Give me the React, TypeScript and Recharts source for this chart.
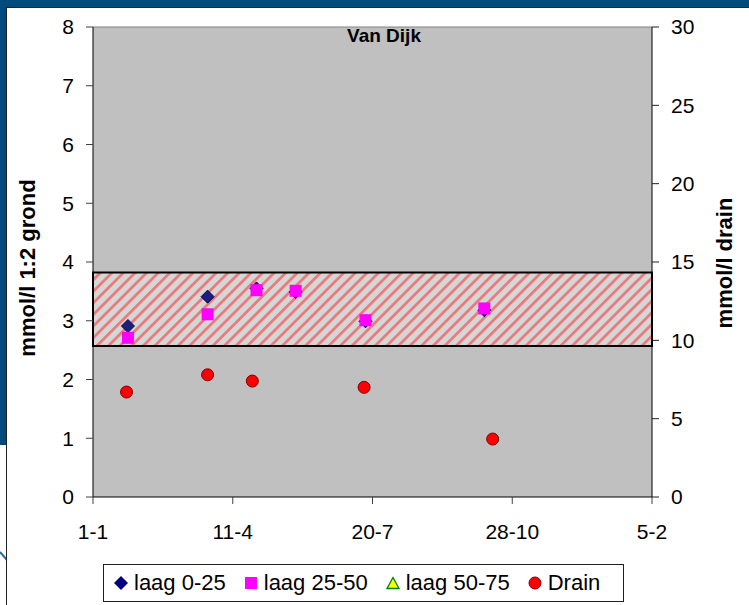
import { ComposedChart, Scatter, XAxis, YAxis, ReferenceArea, ReferenceLine, CartesianGrid } from 'recharts';

// x-as: dagen vanaf 1-1
const xTickDagen = [0, 100, 200, 300, 400];
const xTickLabels = ['1-1', '11-4', '20-7', '28-10', '5-2'];
const grondTicks = [0, 1, 2, 3, 4, 5, 6, 7, 8];
const drainTicks = [0, 5, 10, 15, 20, 25, 30];

// metingen grond (mmol/l 1:2)
const bemonsteringDagen = [25, 82, 117, 145, 195, 280];
const laag0_25 = [2.91, 3.41, 3.55, 3.49, 2.99, 3.18];
const laag25_50 = [2.71, 3.11, 3.52, 3.51, 3.01, 3.21];
const laag50_75: number[] = [];

// metingen drain (mmol/l)
const drainDagen = [24, 82, 114, 194, 286];
const drainWaarden = [6.7, 7.8, 7.4, 7.0, 3.7];

// streefwaarde grond
const streefOnder = 2.57;
const streefBoven = 3.82;

const FONT = '"Liberation Sans", Arial, sans-serif';

const laag0Data = bemonsteringDagen.map((dag, i) => ({ dag, waarde: laag0_25[i] }));
const laag25Data = bemonsteringDagen.map((dag, i) => ({ dag, waarde: laag25_50[i] }));
const laag50Data = laag50_75.map((waarde, i) => ({ dag: bemonsteringDagen[i], waarde }));
const drainData = drainDagen.map((dag, i) => ({ dag, waarde: drainWaarden[i] }));

const Ruit = (props: any) => {
  const { cx, cy } = props;
  const r = 6.5;
  return (
    <polygon
      points={`${cx},${cy - r} ${cx + r},${cy} ${cx},${cy + r} ${cx - r},${cy}`}
      fill="#1E1E80"
      stroke="#000050"
      strokeWidth={1}
    />
  );
};

const Vierkant = (props: any) => {
  const { cx, cy } = props;
  return <rect x={cx - 6} y={cy - 6} width={12} height={12} fill="#FF00FF" />;
};

const Driehoek = (props: any) => {
  const { cx, cy } = props;
  return (
    <polygon
      points={`${cx},${cy - 6} ${cx + 6},${cy + 5} ${cx - 6},${cy + 5}`}
      fill="#FFFF00"
      stroke="#008000"
      strokeWidth={1}
    />
  );
};

const Cirkel = (props: any) => {
  const { cx, cy } = props;
  return <circle cx={cx} cy={cy} r={6} fill="#FF0000" stroke="#800000" strokeWidth={1} />;
};

const legendItems = [
  { naam: 'laag 0-25', icoon: 'ruit' },
  { naam: 'laag 25-50', icoon: 'vierkant' },
  { naam: 'laag 50-75', icoon: 'driehoek' },
  { naam: 'Drain', icoon: 'cirkel' },
];

function LegendIcoon({ soort }: { soort: string }) {
  return (
    <svg width={14} height={14} style={{ marginRight: 6, flexShrink: 0 }}>
      {soort === 'ruit' && <polygon points="7,0 14,7 7,14 0,7" fill="#000080" />}
      {soort === 'vierkant' && <rect x={1} y={1} width={12} height={12} fill="#FF00FF" />}
      {soort === 'driehoek' && <polygon points="7,1.5 13,12.5 1,12.5" fill="#FFFF00" stroke="#008000" strokeWidth={1.3} />}
      {soort === 'cirkel' && <circle cx={7} cy={7} r={6} fill="#FF0000" stroke="#800000" strokeWidth={1} />}
    </svg>
  );
}

const tickStijl = { fontSize: 21, fill: '#000', fontFamily: FONT };

export default function App() {
  return (
    <div style={{ position: 'relative', width: 749, height: 605, background: '#004B7D', overflow: 'hidden' }}>
      <style>{'body{margin:0}'}</style>
      <div style={{ position: 'absolute', left: 0, top: 445, width: 7, height: 160, background: '#fff' }} />
      <svg style={{ position: 'absolute', left: 0, top: 540 }} width={7} height={30}>
        <line x1={0} y1={12} x2={7} y2={20} stroke="#2A6A9A" strokeWidth={2} />
      </svg>
      <div
        style={{
          position: 'absolute',
          left: 6,
          top: 7,
          width: 743,
          height: 598,
          background: '#fff',
          borderLeft: '1px solid #222',
          borderTop: '1px solid #0A2A40',
          boxSizing: 'border-box',
        }}
      />
      <ComposedChart
        width={749}
        height={605}
        margin={{ top: 27, left: 40, right: 37, bottom: 68 }}
        style={{ position: 'absolute', left: 0, top: 0 }}
      >
        <defs>
          <pattern id="arcering" patternUnits="userSpaceOnUse" width={8.2} height={8.2} patternTransform="rotate(45)">
            <rect x={0} y={0} width={8.2} height={8.2} fill="#D6D6D6" />
            <rect x={0} y={0} width={2.8} height={8.2} fill="#E87C7C" />
          </pattern>
        </defs>
        <CartesianGrid horizontal={false} vertical={false} fill="#C0C0C0" fillOpacity={1} stroke="none" />
        <XAxis
          type="number"
          dataKey="dag"
          domain={[0, 400]}
          ticks={xTickDagen}
          tickFormatter={(v: number) => xTickLabels[xTickDagen.indexOf(v)] ?? ''}
          allowDataOverflow
          height={40}
          tick={tickStijl}
          tickSize={7}
          tickMargin={20}
          axisLine={{ stroke: '#000' }}
          tickLine={{ stroke: '#404040' }}
          interval={0}
        />
        <YAxis
          yAxisId="links"
          orientation="left"
          type="number"
          domain={[0, 8]}
          ticks={grondTicks}
          width={53}
          tick={tickStijl}
          tickSize={7}
          tickMargin={12}
          axisLine={{ stroke: '#000' }}
          tickLine={{ stroke: '#404040' }}
          interval={0}
          label={{
            content: (p: any) => {
              const vb = p.viewBox;
              const x = vb.x - 5;
              const y = vb.y + vb.height / 2 + 6;
              return (
                <text
                  x={x}
                  y={y}
                  transform={`rotate(-90 ${x} ${y})`}
                  textAnchor="middle"
                  fontFamily={FONT}
                  fontWeight="bold"
                  fontSize={22}
                  fill="#000"
                >
                  mmol/l 1:2 grond
                </text>
              );
            },
          }}
        />
        <YAxis
          yAxisId="rechts"
          orientation="right"
          type="number"
          domain={[0, 30]}
          ticks={drainTicks}
          width={60}
          tick={tickStijl}
          tickSize={7}
          tickMargin={12}
          axisLine={{ stroke: '#000' }}
          tickLine={{ stroke: '#202020' }}
          interval={0}
          label={{
            content: (p: any) => {
              const vb = p.viewBox;
              const x = vb.x + vb.width + 20;
              const y = vb.y + vb.height / 2 + 1;
              return (
                <text
                  x={x}
                  y={y}
                  transform={`rotate(-90 ${x} ${y})`}
                  textAnchor="middle"
                  fontFamily={FONT}
                  fontWeight="bold"
                  fontSize={22}
                  fill="#000"
                >
                  mmol/l drain
                </text>
              );
            },
          }}
        />
        <YAxis
          yAxisId="rechtsBinnen"
          orientation="right"
          mirror
          type="number"
          domain={[0, 30]}
          ticks={drainTicks}
          width={0}
          tick={false}
          tickSize={7}
          axisLine={false}
          tickLine={{ stroke: '#202020' }}
          interval={0}
        />
        <ReferenceLine yAxisId="links" y={8} stroke="#808080" strokeWidth={1} />
        <ReferenceArea
          yAxisId="links"
          y1={streefOnder}
          y2={streefBoven}
          fill="url(#arcering)"
          fillOpacity={1}
          stroke="#000"
          strokeWidth={2}
        />
        <Scatter yAxisId="links" name="laag 0-25" data={laag0Data} dataKey="waarde" shape={Ruit} isAnimationActive={false} />
        <Scatter yAxisId="links" name="laag 25-50" data={laag25Data} dataKey="waarde" shape={Vierkant} isAnimationActive={false} />
        <Scatter yAxisId="links" name="laag 50-75" data={laag50Data} dataKey="waarde" shape={Driehoek} isAnimationActive={false} />
        <Scatter yAxisId="rechts" name="Drain" data={drainData} dataKey="waarde" shape={Cirkel} isAnimationActive={false} />
      </ComposedChart>
      <div
        style={{
          position: 'absolute',
          left: 0,
          top: 26,
          width: 768,
          textAlign: 'center',
          fontFamily: FONT,
          fontWeight: 'bold',
          fontSize: 19,
          lineHeight: '19px',
          color: '#000',
        }}
      >
        Van Dijk
      </div>
      <div
        style={{
          position: 'absolute',
          left: 103,
          top: 564,
          width: 521,
          height: 38,
          boxSizing: 'border-box',
          border: '1px solid #202020',
          background: '#fff',
          display: 'flex',
          alignItems: 'center',
          paddingLeft: 10,
          fontFamily: FONT,
          fontSize: 22,
          color: '#000',
          whiteSpace: 'nowrap',
        }}
      >
        {legendItems.map((item) => (
          <div key={item.naam} style={{ display: 'flex', alignItems: 'center', marginRight: 18 }}>
            <LegendIcoon soort={item.icoon} />
            <span>{item.naam}</span>
          </div>
        ))}
      </div>
    </div>
  );
}
